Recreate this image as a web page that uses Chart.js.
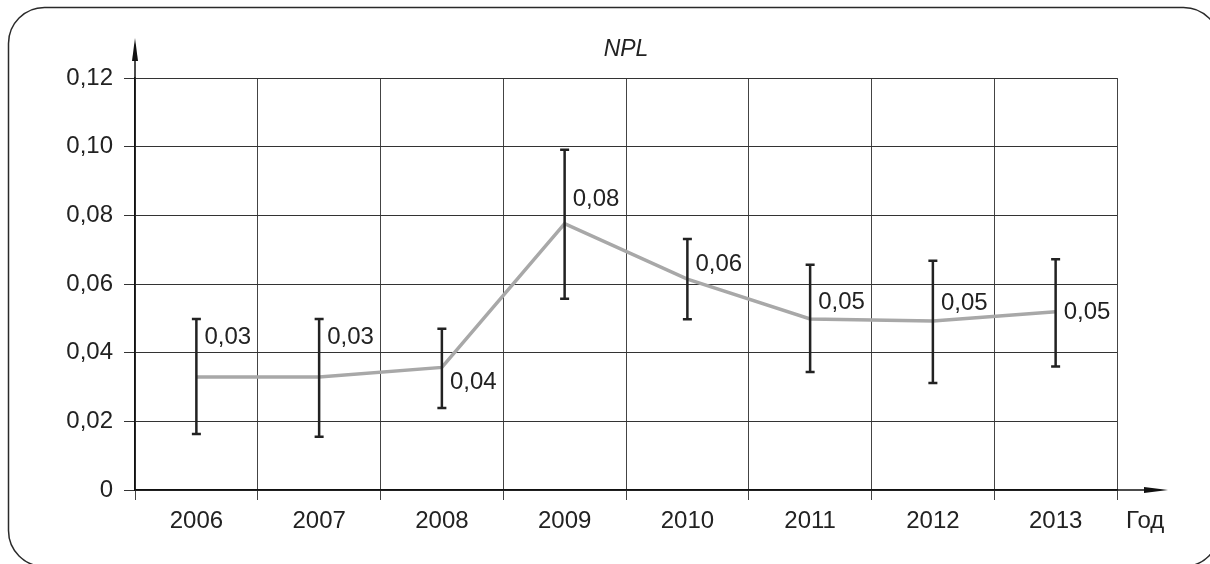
<!DOCTYPE html>
<html>
<head>
<meta charset="utf-8">
<script src="https://cdn.jsdelivr.net/npm/chart.js@4.4.1/dist/chart.umd.min.js"></script>
<style>
  html, body { margin: 0; padding: 0; background: #fff; }
  canvas { display: block; }
</style>
</head>
<body>
<canvas id="c" width="1210" height="564"></canvas>
<script>
// Years on the horizontal axis
const years = ['2006', '2007', '2008', '2009', '2010', '2011', '2012', '2013'];
// Mean NPL share per year
const npl = [0.0329, 0.0329, 0.0357, 0.0776, 0.0614, 0.0498, 0.0492, 0.0519];
// Upper and lower ends of the spread for each year
const errHigh = [0.0498, 0.0498, 0.0470, 0.0991, 0.0731, 0.0656, 0.0668, 0.0672];
const errLow = [0.0163, 0.0155, 0.0239, 0.0557, 0.0497, 0.0344, 0.0312, 0.0360];
// Vertical axis ticks
const yTicks = [0, 0.02, 0.04, 0.06, 0.08, 0.10, 0.12];

const FAMILY = '"Liberation Sans", Arial, Helvetica, sans-serif';
const FONT_SIZE = 24;
const fmt = v => (v === 0 ? '0' : v.toFixed(2).replace('.', ','));

// Rounded frame, axis arrows, axis caption, error bars and value labels
const decor = {
  id: 'decor',
  beforeDraw(chart) {
    const ctx = chart.ctx;
    ctx.save();
    ctx.strokeStyle = '#2a2a2a';
    ctx.lineWidth = 1.5;
    ctx.beginPath();
    ctx.roundRect(8.5, 7.5, 1211, 559, 36);
    ctx.stroke();
    ctx.restore();
  },
  afterDatasetsDraw(chart, args, opts) {
    const ctx = chart.ctx;
    const { left, right, top } = chart.chartArea;
    const xs = chart.scales.x, ys = chart.scales.y;
    ctx.save();

    // vertical axis extension with arrow
    ctx.strokeStyle = '#111';
    ctx.fillStyle = '#111';
    ctx.lineWidth = 1.5;
    ctx.beginPath();
    ctx.moveTo(left, top);
    ctx.lineTo(left, top - 25);
    ctx.stroke();
    ctx.beginPath();
    ctx.moveTo(left, top - 40);
    ctx.lineTo(left - 3, top - 17);
    ctx.lineTo(left + 3, top - 17);
    ctx.closePath();
    ctx.fill();

    // horizontal axis extension with arrow
    const y0 = ys.getPixelForValue(0);
    ctx.beginPath();
    ctx.moveTo(right, y0);
    ctx.lineTo(right + 35, y0);
    ctx.stroke();
    ctx.beginPath();
    ctx.moveTo(right + 51, y0);
    ctx.lineTo(right + 27, y0 - 3);
    ctx.lineTo(right + 27, y0 + 3);
    ctx.closePath();
    ctx.fill();

    // axis caption
    ctx.font = FONT_SIZE + 'px ' + FAMILY;
    ctx.fillStyle = '#222';
    ctx.textAlign = 'left';
    ctx.textBaseline = 'middle';
    ctx.fillText('Год', right + 9, y0 + 31);

    // error bars
    ctx.strokeStyle = '#222';
    ctx.lineWidth = 2.5;
    const cap = 4.5;
    npl.forEach((v, i) => {
      const x = xs.getPixelForValue(i);
      const yh = ys.getPixelForValue(errHigh[i]);
      const yl = ys.getPixelForValue(errLow[i]);
      ctx.beginPath();
      ctx.moveTo(x, yh);
      ctx.lineTo(x, yl);
      ctx.moveTo(x - cap, yh);
      ctx.lineTo(x + cap, yh);
      ctx.moveTo(x - cap, yl);
      ctx.lineTo(x + cap, yl);
      ctx.stroke();
    });

    // value labels
    ctx.fillStyle = '#222';
    ctx.textAlign = 'left';
    ctx.textBaseline = 'middle';
    npl.forEach((v, i) => {
      const x = xs.getPixelForValue(i);
      const y = ys.getPixelForValue(v);
      ctx.fillText(fmt(v), x + opts.dx, y + opts.dy[i]);
    });
    ctx.restore();
  }
};

new Chart(document.getElementById('c'), {
  type: 'line',
  data: {
    labels: years,
    datasets: [{
      data: npl,
      borderColor: '#a8a8a8',
      borderWidth: 3.5,
      pointRadius: 0,
      tension: 0,
      fill: false
    }]
  },
  plugins: [decor],
  options: {
    responsive: false,
    animation: false,
    devicePixelRatio: 1,
    layout: { padding: { left: 0, right: 93, top: 0, bottom: 0 } },
    plugins: {
      legend: { display: false },
      tooltip: { enabled: false },
      title: {
        display: true,
        text: 'NPL',
        fullSize: false,
        color: '#222',
        font: { family: FAMILY, size: 23, style: 'italic', weight: 'normal' },
        padding: { top: 36, bottom: 14.4 }
      },
      decor: { dx: 8, dy: [-40, -40, 15, -24, -15, -17, -18, 1] }
    },
    scales: {
      x: {
        offset: true,
        grid: { offset: true, color: '#444', lineWidth: 1, tickLength: 10 },
        border: { display: true, color: '#111', width: 1.5 },
        ticks: {
          color: '#222',
          font: { family: FAMILY, size: FONT_SIZE },
          padding: 7,
          maxRotation: 0,
          autoSkip: false
        },
        afterFit(s) { s.height = 74; }
      },
      y: {
        min: 0,
        max: 0.12,
        afterBuildTicks(s) { s.ticks = yTicks.map(v => ({ value: v })); },
        grid: { color: '#333', lineWidth: 1, tickLength: 11 },
        border: { display: true, color: '#111', width: 1.5 },
        ticks: {
          color: '#222',
          font: { family: FAMILY, size: FONT_SIZE },
          padding: 11,
          callback: v => fmt(v)
        },
        afterFit(s) { s.width = 135; }
      }
    }
  }
});
</script>
</body>
</html>
